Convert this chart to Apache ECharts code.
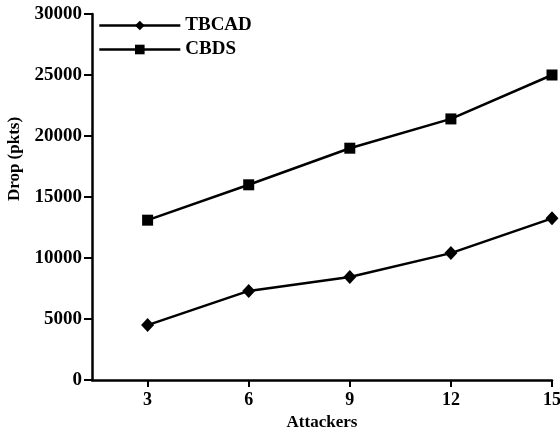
<!DOCTYPE html>
<html>
<head>
<meta charset="utf-8">
<script src="https://cdn.jsdelivr.net/npm/echarts@6/dist/echarts.min.js"></script>
<style>html,body{margin:0;padding:0;background:#fff}#c{width:560px;height:430px}</style>
</head>
<body>
<div id="c"></div>
<script>
var attackers = [3, 6, 9, 12, 15];
var tbcad = [4500, 7300, 8450, 10400, 13250];
var cbds = [13100, 16000, 19000, 21400, 25000];
var xTicks = [3, 6, 9, 12, 15];
var yTicks = [0, 5000, 10000, 15000, 20000, 25000, 30000];

function pairs(xs, ys) { return xs.map(function (x, i) { return [x, ys[i]]; }); }

var font = '"Liberation Serif", "Times New Roman", serif';
var chart = echarts.init(document.getElementById('c'), null, { renderer: 'canvas' });
chart.setOption({
  animation: false,
  backgroundColor: '#ffffff',
  grid: { left: 92, right: 8, top: 14, bottom: 50, containLabel: false, outerBoundsMode: 'none' },
  legend: {
    left: 93, top: 11, orient: 'vertical', itemWidth: 81, itemHeight: 12, itemGap: 5,
    lineStyle: { width: 2.6 },
    textStyle: { fontFamily: font, fontWeight: 'bold', fontSize: 19, color: '#000' },
    data: ['TBCAD', 'CBDS']
  },
  xAxis: {
    type: 'value', min: 1.35, max: 15,
    name: 'Attackers', nameLocation: 'middle', nameGap: 33,
    nameTextStyle: { fontFamily: font, fontWeight: 'bold', fontSize: 17, color: '#000' },
    axisLine: { show: true, lineStyle: { color: '#000', width: 2.5 } },
    axisTick: { show: true, customValues: xTicks, length: 7, lineStyle: { color: '#000', width: 2 } },
    axisLabel: { customValues: xTicks, margin: 11, fontFamily: font, fontWeight: 'bold', fontSize: 18, color: '#000' },
    splitLine: { show: false }
  },
  yAxis: {
    type: 'value', min: 0, max: 30000, interval: 5000,
    name: 'Drop (pkts)', nameLocation: 'middle', nameGap: 68, nameRotate: 90,
    nameTextStyle: { fontFamily: font, fontWeight: 'bold', fontSize: 17, color: '#000', padding: [0, 0, 0, 76] },
    axisLine: { show: true, lineStyle: { color: '#000', width: 2.5 } },
    axisTick: { show: true, length: 8, lineStyle: { color: '#000', width: 2 } },
    axisLabel: { margin: 10, fontFamily: font, fontWeight: 'bold', fontSize: 19, color: '#000',
      formatter: function (v) { return yTicks.indexOf(v) >= 0 ? String(v) : ''; } },
    splitLine: { show: false }
  },
  series: [
    { name: 'TBCAD', type: 'line', data: pairs(attackers, tbcad), symbol: 'diamond', symbolSize: [13, 14],
      lineStyle: { color: '#000', width: 2.5 }, itemStyle: { color: '#000' } },
    { name: 'CBDS', type: 'line', data: pairs(attackers, cbds), symbol: 'rect', symbolSize: 11,
      lineStyle: { color: '#000', width: 2.5 }, itemStyle: { color: '#000' } }
  ]
});
</script>
</body>
</html>
